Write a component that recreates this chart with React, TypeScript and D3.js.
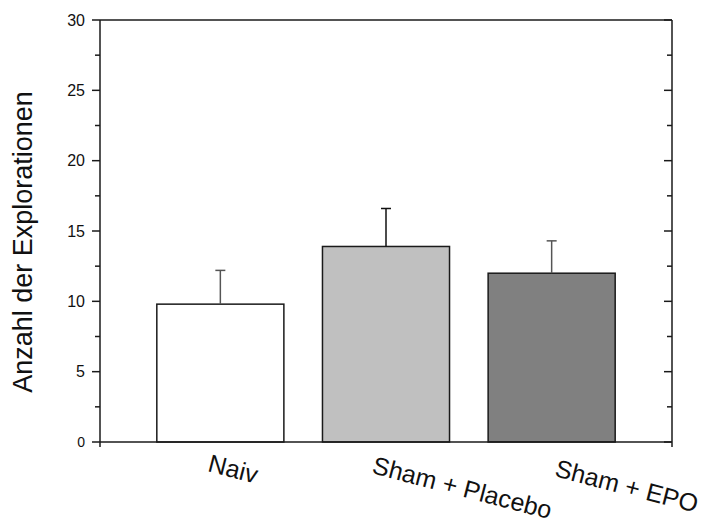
import React from "react";
import * as d3 from "d3";

// Group labels and measured means with their positive SEM bounds
const categories = ["Naiv", "Sham + Placebo", "Sham + EPO"];
const means = [9.8, 13.9, 12.0];
const errorTops = [12.2, 16.6, 14.3];
const yTicks = [0, 5, 10, 15, 20, 25, 30];
const yMinorTicks = [2.5, 7.5, 12.5, 17.5, 22.5, 27.5];

const fills = ["#ffffff", "#c0c0c0", "#808080"];
const errColors = ["#555555", "#111111", "#555555"];
const labelOffsets = [
  { dx: -13.5, y: 471 },
  { dx: -15, y: 473 },
  { dx: 2, y: 476 },
];

const W = 702;
const H = 518;
const left = 100;
const right = 672;
const top = 20;
const bottom = 442;

export default function App() {
  const x = d3
    .scaleBand<string>()
    .domain(categories)
    .range([left, right])
    .paddingInner(0.233)
    .paddingOuter(0.343);
  const y = d3.scaleLinear().domain([0, 30]).range([bottom, top]);
  const font = "Arial, 'Liberation Sans', Helvetica, sans-serif";
  const axisColor = "#1a1a1a";

  return (
    <svg
      width={W}
      height={H}
      style={{ position: "absolute", left: 0, top: 0, background: "#fff" }}
      fontFamily={font}
    >
      {/* bars */}
      {categories.map((c, i) => (
        <rect
          key={c}
          x={x(c)!}
          y={y(means[i])}
          width={x.bandwidth()}
          height={y(0) - y(means[i])}
          fill={fills[i]}
          stroke="#1a1a1a"
          strokeWidth={1.5}
        />
      ))}
      {/* error bars (upper only) */}
      {categories.map((c, i) => {
        const cx = x(c)! + x.bandwidth() / 2;
        return (
          <g key={c + "-err"} stroke={errColors[i]} strokeWidth={1.5}>
            <line x1={cx} x2={cx} y1={y(means[i])} y2={y(errorTops[i])} />
            <line x1={cx - 5} x2={cx + 5} y1={y(errorTops[i])} y2={y(errorTops[i])} />
          </g>
        );
      })}
      {/* frame */}
      <g stroke={axisColor} strokeWidth={1.5} fill="none">
        <line x1={left} x2={left} y1={top} y2={bottom + 5} />
        <line x1={right} x2={right} y1={top} y2={bottom + 5} />
        <line x1={left} x2={right} y1={top} y2={top} />
        <line x1={left} x2={right} y1={bottom} y2={bottom} />
      </g>
      {/* ticks: outward on the left, inward on the right */}
      <g stroke={axisColor} strokeWidth={1.5}>
        {yTicks.map((t) => (
          <line key={"l" + t} x1={left - 8} x2={left} y1={y(t)} y2={y(t)} />
        ))}
        {yMinorTicks.map((t) => (
          <line key={"lm" + t} x1={left - 5} x2={left} y1={y(t)} y2={y(t)} />
        ))}
        {yTicks.map((t) => (
          <line key={"r" + t} x1={right - 8} x2={right} y1={y(t)} y2={y(t)} />
        ))}
        {yMinorTicks.map((t) => (
          <line key={"rm" + t} x1={right - 5} x2={right} y1={y(t)} y2={y(t)} />
        ))}
      </g>
      {/* tick labels */}
      {yTicks.map((t) => (
        <text
          key={"tl" + t}
          x={left - 15}
          y={y(t)}
          dy="0.36em"
          textAnchor="end"
          fontSize={t === 0 ? 14 : 16}
          fill="#111"
        >
          {t}
        </text>
      ))}
      {/* y axis title */}
      <text
        transform={`translate(32, ${242}) rotate(-90)`}
        textAnchor="middle"
        fontSize={27}
        fill="#111"
      >
        Anzahl der Explorationen
      </text>
      {/* category labels */}
      {categories.map((c, i) => {
        const cx = x(c)! + x.bandwidth() / 2 + labelOffsets[i].dx;
        return (
          <text
            key={c + "-lab"}
            transform={`translate(${cx}, ${labelOffsets[i].y}) rotate(14.5)`}
            textAnchor="start"
            fontSize={25}
            fill="#111"
          >
            {c}
          </text>
        );
      })}
    </svg>
  );
}
